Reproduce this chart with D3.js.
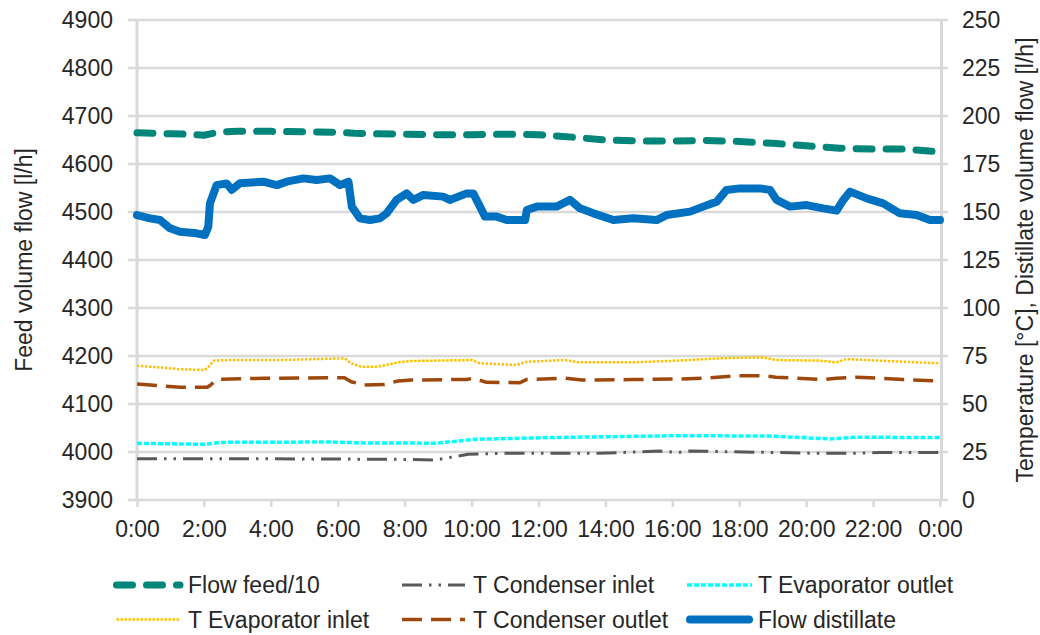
<!DOCTYPE html>
<html>
<head>
<meta charset="utf-8">
<script src="https://cdn.jsdelivr.net/npm/d3@7"></script>
<style>
  body { margin: 0; background: #fff; }
  svg text { font-family: "Liberation Sans", Arial, sans-serif; fill: #262626; }
</style>
</head>
<body>
<div id="canvas"></div>
<script>
"use strict"

/* data: [hour of day, value] */
let feedFlow = [[0, 4665], [0.5, 4664], [1, 4663], [1.5, 4662], [2, 4660], [2.5, 4667], [3, 4668],
    [4, 4668], [5, 4667], [6, 4666], [6.5, 4664], [7, 4663], [8, 4662], [9, 4661], [10, 4661],
    [11, 4662], [12, 4661], [13, 4656], [14, 4650], [15, 4648], [16, 4648], [17, 4649], [18, 4647],
    [19, 4643], [20, 4638], [21, 4633], [22, 4631], [23, 4631], [24, 4625]];

let condInlet = [[0, 21.5], [3.2, 21.5], [7.8, 21.2], [8.9, 20.8], [9.9, 23.8], [10.9, 24.3],
    [13.8, 24.3], [15.6, 25.5], [16.2, 24.8], [16.5, 25.5], [18.9, 24.8], [20.4, 24.3],
    [21.5, 24.3], [22.2, 24.8], [24, 24.8]];

let evapOutlet = [[0, 29.5], [1.3, 29.2], [2, 29.0], [2.5, 30], [5.8, 30.2], [6.8, 29.7],
    [8.2, 29.7], [8.9, 29.5], [10.1, 31.6], [12.3, 32.5], [16.2, 33.5], [18.9, 33.3],
    [19.9, 32.5], [20.7, 31.8], [21.5, 32.7], [24, 32.5]];

let evapInlet = [[0, 69.9], [0.8, 68.9], [1.3, 68.1], [2, 67.7], [2.1, 68.6], [2.3, 72.6],
    [2.8, 72.9], [4.3, 72.9], [6.2, 73.8], [6.4, 71.2], [6.7, 69.4], [7.2, 69.4], [7.8, 71.7],
    [8.2, 72.4], [10, 72.9], [10.25, 71.2], [11.35, 70.3], [11.65, 72], [12.8, 72.9],
    [13.2, 71.7], [14.8, 71.7], [16.2, 72.6], [17.4, 73.8], [18.7, 74.3], [19.1, 72.9],
    [20.4, 72.6], [20.9, 71.7], [21.2, 73.4], [22.9, 72], [24, 71.2]];

let condOutlet = [[0, 60.4], [0.7, 59.5], [1.3, 58.7], [2.1, 58.7], [2.2, 59.9], [2.4, 62.8],
    [3.8, 63.4], [6.2, 63.7], [6.4, 61.6], [6.8, 59.9], [7.4, 60.2], [7.8, 62], [8.2, 62.5],
    [9.85, 62.8], [10.05, 63.4], [10.45, 61.3], [11.45, 61.1], [11.65, 62.8], [12.8, 63.4],
    [13.3, 62.5], [14.8, 62.7], [16.2, 63], [16.9, 63.4], [17.9, 64.7], [18.8, 64.7],
    [19.1, 63.9], [20.5, 62.8], [20.9, 63.4], [21.5, 63.9], [21.9, 63.7], [22.9, 62.7], [24, 62]];

let distillate = [[0, 148.4], [0.39, 146.7], [0.69, 145.8], [0.99, 141.5], [1.28, 139.7],
    [1.78, 138.9], [2.03, 138], [2.13, 142.3], [2.18, 154.5], [2.38, 164], [2.68, 164.9],
    [2.83, 161.5], [3.08, 165], [3.77, 165.8], [4.18, 164], [4.47, 165.8], [4.97, 167.5],
    [5.37, 166.7], [5.77, 167.5], [6.07, 164], [6.32, 165.8], [6.42, 152.8], [6.66, 146.7],
    [6.96, 145.8], [7.26, 146.7], [7.46, 149.3], [7.76, 156.3], [8.06, 159.7], [8.26, 156.3],
    [8.56, 158.9], [9.15, 158], [9.35, 156.3], [9.85, 159.7], [10.05, 159.7], [10.25, 152.8],
    [10.4, 147.6], [10.75, 147.6], [11.05, 145.8], [11.6, 145.8], [11.65, 151], [11.95, 152.8],
    [12.54, 152.8], [12.94, 156.3], [13.24, 151.9], [13.64, 149.3], [14.24, 145.8],
    [14.83, 146.7], [15.53, 145.8], [15.83, 148.4], [16.53, 150.2], [16.92, 152.8],
    [17.33, 155.4], [17.62, 161.5], [18.02, 162.3], [18.62, 162.3], [18.92, 161.5],
    [19.12, 156.3], [19.52, 152.8], [20.01, 153.6], [20.51, 151.9], [20.91, 150.7],
    [21.11, 156.3], [21.31, 160.6], [21.81, 157.1], [22.3, 154.5], [22.8, 149.3],
    [23.3, 148.4], [23.7, 145.8], [24, 145.8]];

let hourTicks = [0, 2, 4, 6, 8, 10, 12, 14, 16, 18, 20, 22, 24];
let leftTicks = [3900, 4000, 4100, 4200, 4300, 4400, 4500, 4600, 4700, 4800, 4900];
let rightTicks = [0, 25, 50, 75, 100, 125, 150, 175, 200, 225, 250];

let drawing = d3.select("#canvas")
    .append("svg")
    .attr("width", 1040)
    .attr("height", 635);

let plotLeft = 137, plotRight = 940, plotTop = 20, plotBottom = 500;

let x = d3.scaleLinear().domain([0, 24]).range([plotLeft, plotRight]);
let yLeft = d3.scaleLinear().domain([3900, 4900]).range([plotBottom, plotTop]);
let yRight = d3.scaleLinear().domain([0, 250]).range([plotBottom, plotTop]);

// horizontal gridlines (they also form the tick marks on both sides)
drawing.append("g").selectAll("line")
    .data(leftTicks)
    .join("line")
    .attr("x1", plotLeft - 9)
    .attr("x2", plotRight + 8)
    .attr("y1", d => yLeft(d))
    .attr("y2", d => yLeft(d))
    .attr("stroke", "#d9d9d9")
    .attr("stroke-width", 2.5);

// vertical axis lines
drawing.append("line")
    .attr("x1", plotLeft).attr("x2", plotLeft)
    .attr("y1", plotTop).attr("y2", plotBottom + 1)
    .attr("stroke", "#d9d9d9").attr("stroke-width", 3);
drawing.append("line")
    .attr("x1", plotRight + 1.5).attr("x2", plotRight + 1.5)
    .attr("y1", plotTop).attr("y2", plotBottom + 1)
    .attr("stroke", "#d9d9d9").attr("stroke-width", 3);

// axes
let leftAxis = drawing.append("g")
    .attr("transform", `translate(${plotLeft},0)`)
    .call(d3.axisLeft(yLeft).tickValues(leftTicks).tickSize(0).tickPadding(24)
        .tickFormat(d3.format("d")));

let rightAxis = drawing.append("g")
    .attr("transform", `translate(${plotRight},0)`)
    .call(d3.axisRight(yRight).tickValues(rightTicks).tickSize(0).tickPadding(22));

let bottomAxis = drawing.append("g")
    .attr("transform", `translate(0,${plotBottom})`)
    .call(d3.axisBottom(x).tickValues(hourTicks).tickSize(7).tickPadding(14)
        .tickFormat(h => (h % 24) + ":00"));

[leftAxis, rightAxis, bottomAxis].forEach(a => {
    a.select(".domain").remove();
    a.selectAll(".tick line").attr("stroke", "#d9d9d9").attr("stroke-width", 2.5);
    a.selectAll(".tick text")
        .attr("fill", "#262626")
        .style("font-size", "23px")
        .style("font-family", "'Liberation Sans', Arial, sans-serif");
});

// axis titles
drawing.append("text")
    .attr("transform", "translate(32,260) rotate(-90)")
    .attr("text-anchor", "middle")
    .style("font-size", "23px")
    .text("Feed volume flow [l/h]");

drawing.append("text")
    .attr("transform", "translate(1033,260) rotate(-90)")
    .attr("text-anchor", "middle")
    .style("font-size", "23px")
    .text("Temperature [°C], Distillate volume flow [l/h]");

// series styles
let series = [
    { name: "Flow feed/10", data: feedFlow, y: yLeft, color: "#00857a", width: 7, dash: "16,14", cap: "round" },
    { name: "T Condenser inlet", data: condInlet, y: yRight, color: "#595959", width: 3, dash: "20,7,2.5,7,2.5,7", cap: "butt" },
    { name: "T Evaporator outlet", data: evapOutlet, y: yRight, color: "#00ffff", width: 3.5, dash: "5,2", cap: "butt" },
    { name: "T Evaporator inlet", data: evapInlet, y: yRight, color: "#ffc000", width: 2.5, dash: "2.5,1.5", cap: "butt" },
    { name: "T Condenser outlet", data: condOutlet, y: yRight, color: "#9e480e", width: 3.5, dash: "20,9", cap: "butt" },
    { name: "Flow distillate", data: distillate, y: yRight, color: "#0070c0", width: 8, dash: null, cap: "round" }
];

series.forEach(s => {
    let line = d3.line()
        .x(d => x(d[0]))
        .y(d => s.y(d[1]));

    drawing.append("path")
        .datum(s.data)
        .attr("d", line)
        .attr("fill", "none")
        .attr("stroke", s.color)
        .attr("stroke-width", s.width)
        .attr("stroke-dasharray", s.dash)
        .attr("stroke-linecap", s.cap)
        .attr("stroke-linejoin", "round");
});

// legend, laid out in three columns and two rows
let legendCols = [[116.5, 180, 188], [402, 465, 473], [687, 752, 758]];
let legendRows = [585, 619.5];

series.forEach((s, i) => {
    let col = legendCols[i % 3];
    let rowY = legendRows[Math.floor(i / 3)];
    let x1 = col[0], x2 = col[1];
    if (i === 5) { x1 = col[0] + 3; x2 = col[1] - 3; }

    drawing.append("line")
        .attr("x1", x1).attr("x2", x2)
        .attr("y1", rowY).attr("y2", rowY)
        .attr("stroke", s.color)
        .attr("stroke-width", s.width)
        .attr("stroke-dasharray", s.dash)
        .attr("stroke-linecap", s.cap);

    drawing.append("text")
        .attr("x", col[2])
        .attr("y", rowY + 8)
        .style("font-size", "23px")
        .text(s.name);
});
</script>
</body>
</html>
